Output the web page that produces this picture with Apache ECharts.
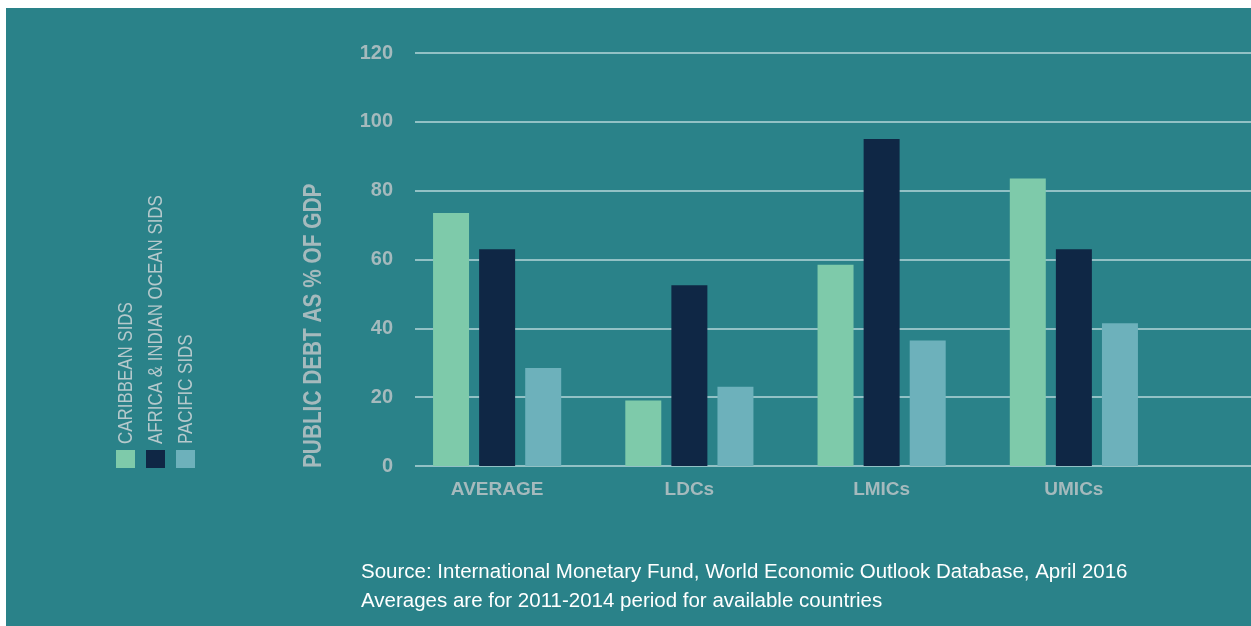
<!DOCTYPE html>
<html>
<head>
<meta charset="utf-8">
<script src="https://cdn.jsdelivr.net/npm/echarts@6/dist/echarts.min.js"></script>
<style>
  html, body { margin: 0; padding: 0; background: #ffffff; }
  #chart { width: 1251px; height: 626px; }
</style>
</head>
<body>
<div id="chart"></div>
<script>
// Public debt as % of GDP by SIDS region and income group
const categories = ['AVERAGE', 'LDCs', 'LMICs', 'UMICs'];
const seriesNames = ['CARIBBEAN SIDS', 'AFRICA & INDIAN OCEAN SIDS', 'PACIFIC SIDS'];
const caribbean = [73.5, 19, 58.5, 83.5];
const africaIndian = [63, 52.5, 95, 63];
const pacific = [28.5, 23, 36.5, 41.5];
const yTicks = [0, 20, 40, 60, 80, 100, 120];
const yTitle = 'PUBLIC DEBT AS % OF GDP';
const sourceLines = [
  'Source: International Monetary Fund, World Economic Outlook Database, April 2016',
  'Averages are for 2011-2014 period for available countries'
];

const colors = ['#7ecaaa', '#0f2745', '#6db1bb'];
const panel = '#2a8289';
const gridLine = '#92c1c5';
const axisText = '#a5babd';
const legendText = '#b6c9cc';
const sans = '"Liberation Sans", Arial, Helvetica, sans-serif';

const values = [caribbean, africaIndian, pacific];

const chart = echarts.init(document.getElementById('chart'), null, { renderer: 'canvas' });

// Legend drawn as rotated, condensed labels over swatches
const legendGraphics = [];
seriesNames.forEach(function (name, i) {
  const cx = 125 + i * 30;
  legendGraphics.push({
    type: 'rect', z: 10,
    shape: { x: cx - 9, y: 450, width: 19, height: 18 },
    style: { fill: colors[i] }
  });
  legendGraphics.push({
    type: 'text', z: 10,
    x: cx + 1, y: 444, rotation: Math.PI / 2, scaleX: 0.845,
    style: {
      text: name, fill: legendText,
      font: '20px ' + sans,
      textAlign: 'left', textVerticalAlign: 'middle'
    }
  });
});

const option = {
  backgroundColor: '#ffffff',
  animation: false,
  graphic: [
    { type: 'rect', z: -10, shape: { x: 6, y: 8, width: 1245, height: 618 }, style: { fill: panel } },
    {
      type: 'text', z: 10, x: 314, y: 468, rotation: Math.PI / 2, scaleX: 0.8,
      style: {
        text: yTitle, fill: axisText,
        font: 'bold 26px ' + sans,
        textAlign: 'left', textVerticalAlign: 'middle'
      }
    },
    {
      type: 'text', z: 10, x: 361, y: 572,
      style: { text: sourceLines[0], fill: '#ffffff', font: '20.5px ' + sans, textVerticalAlign: 'middle' }
    },
    {
      type: 'text', z: 10, x: 361, y: 601,
      style: { text: sourceLines[1], fill: '#ffffff', font: '20.5px ' + sans, textVerticalAlign: 'middle' }
    }
  ].concat(legendGraphics),
  grid: [
    { left: 415, right: 0, top: 53, bottom: 160 },
    { left: 401, width: 769, top: 53, bottom: 160 }
  ],
  xAxis: [
    { gridIndex: 0, type: 'value', show: false, min: 0, max: 1 },
    {
      gridIndex: 1, type: 'category', data: categories,
      axisLine: { show: false }, axisTick: { show: false },
      axisLabel: { color: axisText, fontFamily: sans, fontWeight: 'bold', fontSize: 19, margin: 14 }
    }
  ],
  yAxis: [
    {
      gridIndex: 0, type: 'value', min: yTicks[0], max: yTicks[yTicks.length - 1], interval: 20,
      axisLine: { show: false }, axisTick: { show: false },
      axisLabel: { color: axisText, fontFamily: sans, fontWeight: 'bold', fontSize: 20, margin: 22 },
      splitLine: { lineStyle: { color: gridLine, width: 2 } }
    },
    {
      gridIndex: 1, type: 'value', min: yTicks[0], max: yTicks[yTicks.length - 1], interval: 20,
      show: false, splitLine: { show: false }
    }
  ],
  series: seriesNames.map(function (name, i) {
    return {
      name: name, type: 'bar', xAxisIndex: 1, yAxisIndex: 1,
      data: values[i], barWidth: 36, barGap: '28%',
      itemStyle: { color: colors[i] }, z: 3
    };
  })
};

chart.setOption(option);
</script>
</body>
</html>
